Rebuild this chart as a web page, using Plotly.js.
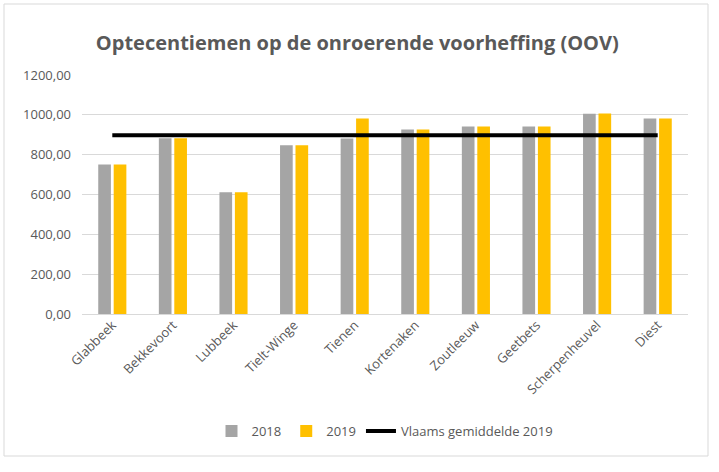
<!DOCTYPE html>
<html>
<head>
<meta charset="utf-8">
<script src="https://cdn.plot.ly/plotly-3.0.1.min.js"></script>
<style>
html,body{margin:0;padding:0;background:#fff;}
#chart{width:719px;height:472px;}
</style>
</head>
<body>
<div id="chart"></div>
<script>
const categories = ["Glabbeek","Bekkevoort","Lubbeek","Tielt-Winge","Tienen","Kortenaken","Zoutleeuw","Geetbets","Scherpenheuvel","Diest"];
const values2018 = [751, 882, 611, 847, 881, 926, 941, 941, 1006, 981];
const values2019 = [751, 882, 611, 847, 981, 926, 941, 941, 1007, 981];
const vlaamsGemiddelde2019 = [897, 897, 897, 897, 897, 897, 897, 897, 897, 897];
const yTicks = [0, 200, 400, 600, 800, 1000, 1200];

const font = "Open Sans, Liberation Sans, sans-serif";
const traces = [
  {type:"bar", name:"2018", x:categories, y:values2018, marker:{color:"#a5a5a5"}, hoverinfo:"none"},
  {type:"bar", name:"2019", x:categories, y:values2019, marker:{color:"#ffc000"}, hoverinfo:"none"},
  {type:"scatter", mode:"lines", name:"Vlaams gemiddelde 2019", x:categories, y:vlaamsGemiddelde2019, line:{color:"#000000", width:4}, hoverinfo:"none"}
];

const L=82, R=31, T=75, B=158, W=719, H=472;
const pw=W-L-R, ph=H-T-B;
function px(x){return (x-L)/pw;}
function py(y){return (H-B-y)/ph;}

const layout = {
  width:W, height:H,
  margin:{l:L, r:R, t:T, b:B, pad:0},
  paper_bgcolor:"#ffffff", plot_bgcolor:"#ffffff",
  separators:",.",
  barmode:"group", bargap:0.49, bargroupgap:0.18,
  showlegend:true,
  title:{text:"Optecentiemen op de onroerende voorheffing (OOV)", x:0.497, xanchor:"center", y:1-43/H, yanchor:"middle",
    font:{family:font, size:20, color:"#595959", weight:700}},
  font:{family:font, size:13, color:"#595959"},
  xaxis:{type:"category", tickangle:-45, showgrid:false, zeroline:false, showline:false, ticks:"",
    tickfont:{family:font, size:13, color:"#595959"}, fixedrange:true},
  yaxis:{range:[0,1200], tickvals:yTicks, tickformat:".2f", showgrid:true, gridcolor:"#d9d9d9", gridwidth:1,
    zeroline:true, zerolinecolor:"#d9d9d9", zerolinewidth:1, showline:false, ticks:"", ticklen:0,
    ticklabelstandoff:10,
    tickfont:{family:font, size:13, color:"#595959"}, fixedrange:true},
  legend:{orientation:"h", x:0.5, xanchor:"center", y:py(431), yanchor:"middle",
    font:{family:font, size:13, color:"#595959"}, itemwidth:30, traceorder:"normal"},
  shapes:[{type:"rect", xref:"paper", yref:"paper", x0:px(4), x1:px(708), y0:py(456), y1:py(4),
    line:{color:"#d9d9d9", width:1}, fillcolor:"rgba(0,0,0,0)", layer:"below"}]
};

Plotly.newPlot("chart", traces, layout, {staticPlot:true, displayModeBar:false});
</script>
</body>
</html>
